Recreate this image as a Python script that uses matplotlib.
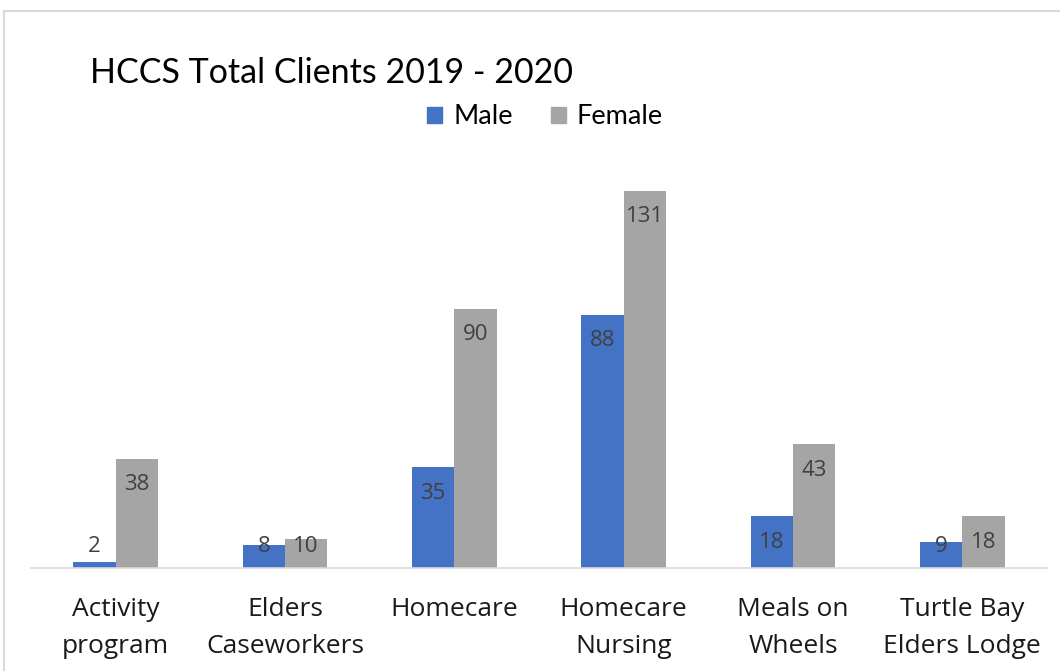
import numpy as np
import matplotlib
matplotlib.use("Agg")
import matplotlib.pyplot as plt
from matplotlib.patches import Rectangle, Patch

# client counts per program, 2019 - 2020
categories = ["Activity\nprogram", "Elders\nCaseworkers", "Homecare",
              "Homecare\nNursing", "Meals on\nWheels", "Turtle Bay\nElders Lodge"]
male = [2, 8, 35, 88, 18, 9]
female = [38, 10, 90, 131, 43, 18]

BLUE = "#4472C4"
GREY = "#A5A5A5"
LABEL = "#404040"

fig = plt.figure(figsize=(10.6, 6.71), dpi=100)

# light chart frame
fig.patches.append(Rectangle((4 / 1060, -0.1), 1.2, 1 - 11 / 671 + 0.1,
                             transform=fig.transFigure, fill=False,
                             edgecolor="#D9D9D9", linewidth=1.5))

ax = fig.add_axes([31 / 1060, 103 / 671, 1016 / 1060, 403 / 671])
x = np.arange(len(categories))
w = 0.25
ax.bar(x - w / 2, male, w, color=BLUE, label="Male")
ax.bar(x + w / 2, female, w, color=GREY, label="Female")

ax.set_xlim(-0.5, len(categories) - 0.5)
ax.set_ylim(0, 140)
ax.set_yticks([])
for s in ["top", "right", "left"]:
    ax.spines[s].set_visible(False)
ax.spines["bottom"].set_color("#D9D9D9")
ax.spines["bottom"].set_linewidth(1.2)

ax.set_xticks(x)
ax.set_xticklabels(categories, fontsize=19, family="Open Sans",
                   color="#1a1a1a", linespacing=1.6)
ax.tick_params(axis="x", length=0, pad=21)

# values inside the bar ends, kept off the baseline for short bars
for xs, vals in [(x - w / 2, male), (x + w / 2, female)]:
    for xi, v in zip(xs, vals):
        yl = max(v - 9.0, 7.6)
        ax.text(xi, yl, str(v), ha="center", va="center", fontsize=16,
                family="Open Sans", color=LABEL)

fig.text(90 / 1060, 1 - 83 / 671, "HCCS Total Clients 2019 - 2020",
         fontsize=24.5, family="Lato", color="black",
         ha="left", va="baseline")

handles = [Patch(color=BLUE), Patch(color=GREY)]
fig.legend(handles, ["Male", "Female"], loc="center",
           bbox_to_anchor=(545 / 1060, 1 - 117 / 671), ncol=2, frameon=False,
           handlelength=0.55, handleheight=0.55, handletextpad=0.4,
           columnspacing=1.4,
           prop={"family": "Lato", "size": 19.5})

fig.savefig("out.png", dpi=100)
